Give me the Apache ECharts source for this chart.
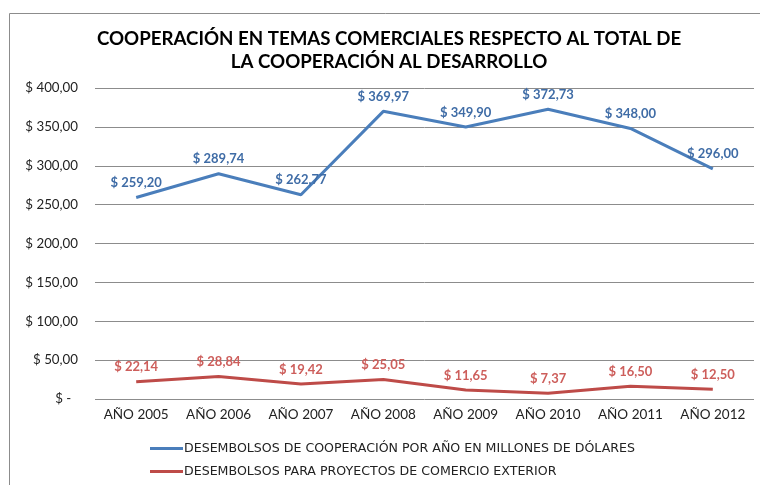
<!DOCTYPE html>
<html><head><meta charset="utf-8">
<script src="https://cdn.jsdelivr.net/npm/echarts@6/dist/echarts.min.js"></script>
<style>html,body{margin:0;padding:0;background:#fff}#c{width:760px;height:485px}</style>
</head><body><div id="c"></div>
<script>
var categories = ['AÑO 2005','AÑO 2006','AÑO 2007','AÑO 2008','AÑO 2009','AÑO 2010','AÑO 2011','AÑO 2012'];
var cooperacion = [259.20, 289.74, 262.77, 369.97, 349.90, 372.73, 348.00, 296.00];
var comercio = [22.14, 28.84, 19.42, 25.05, 11.65, 7.37, 16.50, 12.50];
var seriesNames = ['DESEMBOLSOS DE COOPERACIÓN POR AÑO EN MILLONES DE DÓLARES','DESEMBOLSOS PARA PROYECTOS DE COMERCIO EXTERIOR'];
var titleText = 'COOPERACIÓN EN TEMAS COMERCIALES RESPECTO AL TOTAL DE\nLA COOPERACIÓN AL DESARROLLO';

function money(v){ return '$ ' + v.toFixed(2).replace('.', ','); }

var chart = echarts.init(document.getElementById('c'));
chart.setOption({
  animation: false,
  graphic: [{type:'rect', shape:{x:9.5,y:13.5,width:800,height:600}, style:{fill:null, stroke:'#8c8c8c', lineWidth:1}, silent:true, z:-1}],
  title: {text: titleText, left: 384, top: 22, textAlign: 'center',
    textStyle:{fontFamily:'Lato', fontWeight:'bold', fontSize:18.7, lineHeight:23, color:'#000'}},
  grid: {left: 95, right: 6, top: 88, bottom: 86},
  xAxis: {type:'category', data: categories, boundaryGap: true,
    axisLine:{show:false}, axisTick:{show:false},
    axisLabel:{interval:0, fontFamily:'Lato', fontSize:13.5, color:'#222', margin:9}},
  yAxis: {type:'value', min:0, max:400, interval:50,
    axisLine:{show:false}, axisTick:{show:false},
    splitLine:{lineStyle:{color:'#8c8c8c', width:1}},
    axisLabel:{fontFamily:'Lato', fontSize:13.3, color:'#222', margin:17,
      formatter:function(v){ return v===0 ? '$ -  ' : money(v); }}},
  legend: {orient:'vertical', left:145, top:437, itemGap:10, itemWidth:33, itemHeight:3, icon:'rect',
    textStyle:{fontFamily:'DejaVu Sans', fontSize:12.6, color:'#222', padding:[0,0,0,-4]},
    data: seriesNames},
  series: [
    {name: seriesNames[0], type:'line', data: cooperacion, symbol:'circle', symbolSize:0.1, showSymbol:true,
      lineStyle:{width:3, color:'#4A7EBB'}, itemStyle:{color:'#4A7EBB'},
      label:{show:true, position:'top', distance:8, fontFamily:'Lato', fontWeight:'bold', fontSize:13, color:'#3F6CA6', formatter:function(p){return money(p.value);}}},
    {name: seriesNames[1], type:'line', data: comercio, symbol:'circle', symbolSize:0.1, showSymbol:true,
      lineStyle:{width:3, color:'#BE4B48'}, itemStyle:{color:'#BE4B48'},
      label:{show:true, position:'top', distance:8, fontFamily:'Lato', fontWeight:'bold', fontSize:13, color:'#CD5E5B', formatter:function(p){return money(p.value);}}}
  ]
});
</script></body></html>
